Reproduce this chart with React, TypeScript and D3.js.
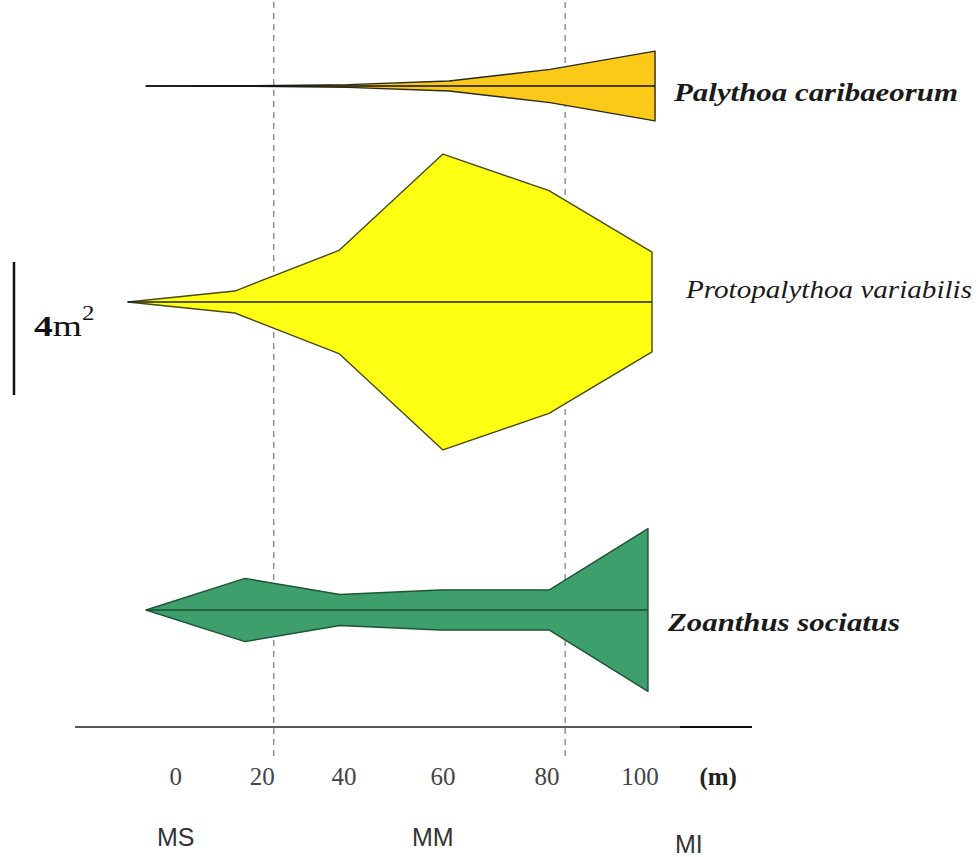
import React from "react";
import * as d3 from "d3";

// ---- data ----
const species = ["Palythoa caribaeorum", "Protopalythoa variabilis", "Zoanthus sociatus"];
// transect positions (m) of each kite vertex
const palythoaPos = [0, 20, 40, 60, 80, 100.8];
const protoPos = [-3.6, 17.6, 38.2, 58.8, 79.8, 100.2];
const zoanthusPos = [0, 19.6, 38.4, 58.2, 79.8, 99.4];
// cover (m²) at each vertex
const palythoaCover = [0, 0.02, 0.08, 0.3, 1.0, 2.1];
const protoCover = [0, 0.66, 3.1, 8.9, 6.7, 3.0];
const zoanthusCover = [0, 1.9, 0.93, 1.2, 1.2, 4.9];

const tickLabels = ["0", "20", "40", "60", "80", "100"];
const tickAt = [5.9, 23, 39.2, 58.8, 79.4, 97.8];
const unitAt = 113.3;
const zoneLabels = ["MS", "MM", "MI"];
const zoneAt = [5.9, 56.8, 107.5];
const zoneBounds = [25.3, 83];
const scaleBarValue = 4;

// ---- layout ----
const W = 979, H = 857;
const rowY = [86, 302, 610];
const fills = ["#FBC918", "#FFFF14", "#3E9F6D"];
const strokes = ["#2a2a1a", "#4a4a10", "#1d5536"];
const midStrokes = ["#111", "#222", "#14502c"];
const labelX = [674, 686, 668];
const labelW = [284, 286, 232];
const labelBase = [101, 298, 631];
const labelWeight = ["bold", "normal", "bold"];

export default function App() {
  const x = d3.scaleLinear().domain([0, 100]).range([146, 651]);
  const w = d3.scaleLinear().domain([0, scaleBarValue]).range([0, 133]);
  const rows = [
    { pos: palythoaPos, cover: palythoaCover },
    { pos: protoPos, cover: protoCover },
    { pos: zoanthusPos, cover: zoanthusCover },
  ];
  const serif = "'Liberation Serif', 'Times New Roman', serif";
  const sans = "'Liberation Sans', Arial, sans-serif";
  return (
    <svg width={W} height={H} style={{ position: "absolute", left: 0, top: 0, background: "#fff" }}>
      {zoneBounds.map((b, i) => (
        <line key={i} x1={x(b)} x2={x(b)} y1={2} y2={757} stroke="#777" strokeWidth={1.2} strokeDasharray="6,5" />
      ))}
      {rows.map((r, i) => {
        const pts = r.pos.map((p, j) => ({ p, c: r.cover[j] }));
        const area = d3
          .area<{ p: number; c: number }>()
          .x((d) => x(d.p))
          .y0((d) => rowY[i] - w(d.c) / 2)
          .y1((d) => rowY[i] + w(d.c) / 2);
        return (
          <g key={i}>
            <path d={area(pts) || ""} fill={fills[i]} stroke={strokes[i]} strokeWidth={1.4} strokeLinejoin="round" />
            <line
              x1={x(r.pos[0])}
              x2={x(r.pos[r.pos.length - 1])}
              y1={rowY[i]}
              y2={rowY[i]}
              stroke={midStrokes[i]}
              strokeWidth={1.6}
            />
            <text
              x={labelX[i]}
              y={labelBase[i]}
              fontFamily={serif}
              fontStyle="italic"
              fontWeight={labelWeight[i]}
              fontSize={26}
              fill="#1a1a1a"
              textLength={labelW[i]}
              lengthAdjust="spacingAndGlyphs"
            >
              {species[i]}
            </text>
          </g>
        );
      })}
      {/* scale bar */}
      <line x1={14} x2={14} y1={262} y2={262 + w(scaleBarValue)} stroke="#111" strokeWidth={2.5} />
      <text transform="translate(34,336) scale(1.25,1)" fontFamily={serif} fontSize={30} fill="#111">
        <tspan fontWeight="bold">{scaleBarValue}</tspan>
        <tspan>m</tspan>
        <tspan fontSize={20} dy={-16}>2</tspan>
      </text>
      {/* axis */}
      <line x1={75} x2={752} y1={727} y2={727} stroke="#222" strokeWidth={1.5} />
      <line x1={680} x2={752} y1={727} y2={727} stroke="#111" strokeWidth={2.2} />
      {tickLabels.map((t, i) => (
        <text key={t} x={x(tickAt[i])} y={785} textAnchor="middle" fontFamily={serif} fontSize={25} fill="#444">
          {t}
        </text>
      ))}
      <text x={x(unitAt)} y={785} textAnchor="middle" fontFamily={serif} fontSize={25} fontWeight="bold" fill="#222">
        (m)
      </text>
      {zoneLabels.map((z, i) => (
        <text key={z} x={x(zoneAt[i])} y={i === 2 ? 853 : 846} textAnchor="middle" fontFamily={sans} fontSize={25} fill="#333">
          {z}
        </text>
      ))}
    </svg>
  );
}
